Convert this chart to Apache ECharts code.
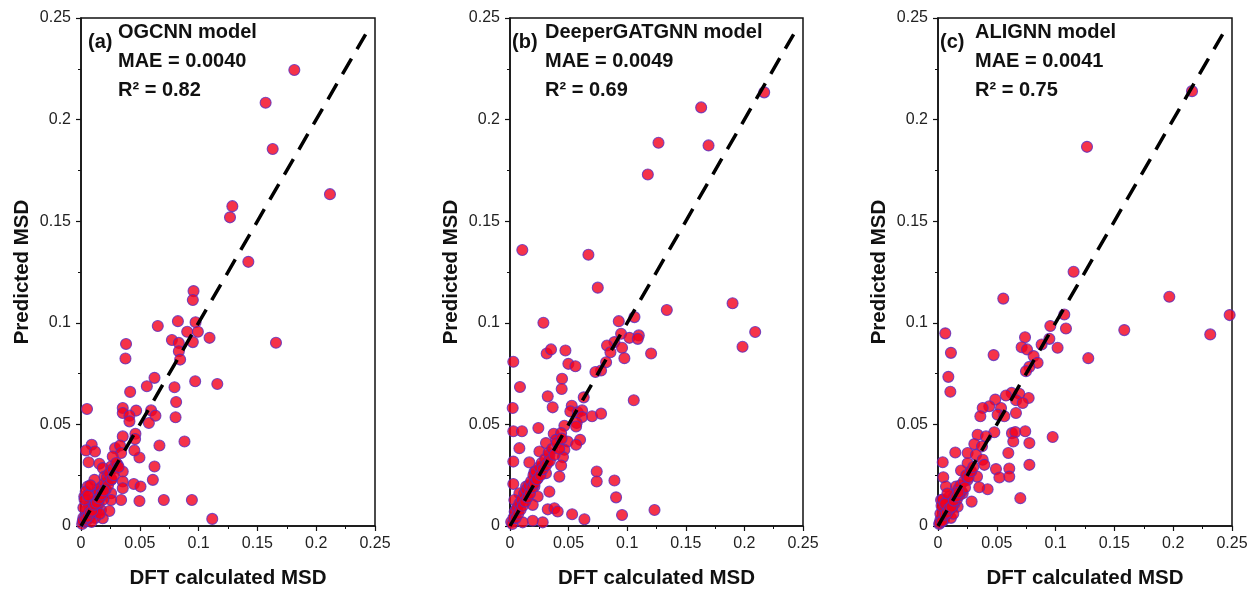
<!DOCTYPE html>
<html>
<head>
<meta charset="utf-8">
<script src="https://cdn.jsdelivr.net/npm/echarts@6/dist/echarts.min.js"></script>
<style>
  html, body { margin: 0; padding: 0; background: #fff; }
  #chart { width: 1252px; height: 590px; }
</style>
</head>
<body>
<div id="chart"></div>
<script>
// [DFT calculated MSD, predicted MSD] pairs
const ogcnnPoints = [
  [0.1814, 0.2244], [0.157, 0.2083], [0.163, 0.1855], [0.2117, 0.1633], [0.1287, 0.1574],
  [0.1267, 0.1519], [0.1423, 0.13], [0.1658, 0.0902],
  [0.0957, 0.1156], [0.0951, 0.1112], [0.0653, 0.0984], [0.0824, 0.1008], [0.0974, 0.1003],
  [0.0903, 0.0956], [0.0994, 0.0956], [0.0773, 0.0915], [0.1093, 0.0926], [0.0832, 0.0901],
  [0.0951, 0.0905], [0.0832, 0.086], [0.0843, 0.0819], [0.0383, 0.0896], [0.0378, 0.0824],
  [0.0625, 0.0729], [0.056, 0.0688], [0.0795, 0.0683], [0.0971, 0.0712], [0.1159, 0.0699],
  [0.0418, 0.066], [0.0809, 0.061], [0.0051, 0.0576], [0.0355, 0.0581], [0.0355, 0.0556],
  [0.0469, 0.0568], [0.0412, 0.0543], [0.0412, 0.0515], [0.0596, 0.0569], [0.0633, 0.0543],
  [0.0577, 0.0507], [0.0804, 0.0535], [0.088, 0.0416], [0.0463, 0.0454], [0.046, 0.0428],
  [0.0355, 0.0441], [0.0667, 0.0396], [0.0091, 0.04], [0.0043, 0.0372], [0.0119, 0.0367],
  [0.0065, 0.0314], [0.029, 0.0383], [0.0332, 0.0396], [0.0341, 0.0359], [0.0497, 0.0337],
  [0.027, 0.0342], [0.0454, 0.0372], [0.0625, 0.0293], [0.0156, 0.0306], [0.0185, 0.0285],
  [0.0256, 0.0293], [0.0312, 0.0301], [0.0355, 0.0268], [0.0611, 0.0227], [0.0449, 0.0207],
  [0.0506, 0.0194], [0.0355, 0.0219], [0.0355, 0.0186], [0.0341, 0.0128], [0.0497, 0.0123],
  [0.0704, 0.0128], [0.0943, 0.0128], [0.1116, 0.0035], [0.0114, 0.0227], [0.0199, 0.0243],
  [0.0256, 0.0227], [0.0057, 0.0194], [0.0142, 0.0178], [0.0256, 0.0161], [0.0028, 0.0145],
  [0.0099, 0.0112], [0.0256, 0.0128], [0.017, 0.0079], [0.0241, 0.0074], [0.0185, 0.0038],
  [0.0085, 0.0063],
  [0.001, 0.001], [0.002, 0.004], [0.003, 0.002], [0.004, 0.005], [0.005, 0.003], [0.005, 0.008],
  [0.006, 0.006], [0.007, 0.004], [0.007, 0.010], [0.008, 0.007], [0.009, 0.009], [0.010, 0.006],
  [0.010, 0.012], [0.011, 0.009], [0.012, 0.011], [0.012, 0.015], [0.013, 0.008], [0.014, 0.013],
  [0.015, 0.011], [0.015, 0.017], [0.016, 0.014], [0.017, 0.019], [0.018, 0.016], [0.019, 0.013],
  [0.020, 0.021], [0.021, 0.018], [0.022, 0.024], [0.023, 0.020], [0.024, 0.026], [0.026, 0.023],
  [0.027, 0.028], [0.028, 0.025], [0.030, 0.031], [0.032, 0.029], [0.002, 0.009], [0.003, 0.013],
  [0.004, 0.017], [0.006, 0.015], [0.008, 0.020], [0.012, 0.004], [0.009, 0.002], [0.016, 0.006],
  [0.0015, 0.0025], [0.0035, 0.0035], [0.0055, 0.0045], [0.0075, 0.0065], [0.0095, 0.0075],
  [0.0115, 0.0105], [0.0135, 0.0115], [0.0155, 0.0135], [0.0175, 0.0155], [0.0195, 0.0175]
];

const deeperPoints = [
  [0.2169, 0.2134], [0.1631, 0.206], [0.1267, 0.1886], [0.1694, 0.1873], [0.1176, 0.173],
  [0.0105, 0.1358], [0.0669, 0.1335], [0.1899, 0.1096], [0.2092, 0.0955], [0.1984, 0.0882],
  [0.0749, 0.1173], [0.1338, 0.1063], [0.0285, 0.1], [0.0928, 0.1008], [0.1062, 0.1028],
  [0.0948, 0.0946], [0.1019, 0.0926], [0.1099, 0.0938], [0.109, 0.0921], [0.0891, 0.0905],
  [0.0828, 0.0888], [0.0857, 0.0855], [0.0956, 0.0877], [0.0976, 0.0826], [0.1204, 0.0849],
  [0.082, 0.0806], [0.0777, 0.0765], [0.0729, 0.0758], [0.0313, 0.0849], [0.035, 0.0869],
  [0.0473, 0.0864], [0.0498, 0.0798], [0.0558, 0.0786], [0.0028, 0.0808], [0.0444, 0.0725],
  [0.0441, 0.0674], [0.0085, 0.0684], [0.0322, 0.0638], [0.0629, 0.0633], [0.1056, 0.0619],
  [0.0023, 0.0581], [0.0364, 0.0584], [0.0527, 0.0592], [0.0515, 0.0564], [0.0578, 0.0559],
  [0.0615, 0.0569], [0.0615, 0.0536], [0.07, 0.054], [0.0777, 0.0553], [0.0569, 0.0507],
  [0.0564, 0.049], [0.0464, 0.0493], [0.0242, 0.0482], [0.0028, 0.0466], [0.0102, 0.0466],
  [0.0373, 0.0454], [0.0436, 0.0457], [0.0393, 0.0424], [0.0492, 0.0416], [0.0598, 0.0424],
  [0.0564, 0.04], [0.0307, 0.0408], [0.008, 0.0383], [0.0251, 0.0367], [0.0464, 0.0375],
  [0.0336, 0.035], [0.0452, 0.0339], [0.0028, 0.0317], [0.0165, 0.0313], [0.0322, 0.0313],
  [0.0436, 0.0298], [0.0265, 0.0285], [0.0208, 0.0265], [0.0307, 0.026], [0.0421, 0.0243],
  [0.0236, 0.0235], [0.074, 0.0268], [0.074, 0.0219], [0.0891, 0.0224], [0.0905, 0.0141],
  [0.0028, 0.0207], [0.0137, 0.0194], [0.0208, 0.0194], [0.0336, 0.0169], [0.008, 0.0161],
  [0.0137, 0.0145], [0.0236, 0.0145], [0.0037, 0.0128], [0.0194, 0.0104], [0.0051, 0.0079],
  [0.0322, 0.0082], [0.0379, 0.0087], [0.0407, 0.0071], [0.053, 0.0058], [0.0635, 0.0033],
  [0.0956, 0.0054], [0.1233, 0.0079], [0.0279, 0.0018], [0.0194, 0.0026], [0.0108, 0.0018],
  [0.001, 0.002], [0.002, 0.001], [0.003, 0.004], [0.004, 0.007], [0.005, 0.004], [0.006, 0.009],
  [0.007, 0.006], [0.008, 0.011], [0.009, 0.008], [0.010, 0.013], [0.011, 0.010], [0.012, 0.016],
  [0.013, 0.012], [0.014, 0.018], [0.015, 0.014], [0.016, 0.020], [0.017, 0.016], [0.018, 0.022],
  [0.019, 0.019], [0.020, 0.025], [0.021, 0.021], [0.022, 0.027], [0.023, 0.023], [0.025, 0.029],
  [0.026, 0.025], [0.027, 0.031], [0.028, 0.028], [0.030, 0.033], [0.031, 0.030], [0.033, 0.036],
  [0.034, 0.032], [0.036, 0.038], [0.038, 0.035], [0.040, 0.041], [0.042, 0.038], [0.044, 0.043]
];

const alignnPoints = [
  [0.216, 0.214], [0.1267, 0.1866], [0.1153, 0.1251], [0.1967, 0.1128], [0.1584, 0.0964],
  [0.2315, 0.0943], [0.248, 0.1038],
  [0.0555, 0.1119], [0.0062, 0.0948], [0.011, 0.0852], [0.0088, 0.0734], [0.0105, 0.0661],
  [0.1074, 0.1041], [0.0955, 0.0984], [0.1088, 0.0972], [0.074, 0.0929], [0.0947, 0.0921],
  [0.0881, 0.0893], [0.0711, 0.088], [0.0757, 0.0869], [0.1017, 0.0877], [0.0473, 0.0841],
  [0.0813, 0.0836], [0.0847, 0.0803], [0.0777, 0.0783], [0.0748, 0.0762], [0.1278, 0.0826],
  [0.0626, 0.0655], [0.0691, 0.0651], [0.0578, 0.0642], [0.0771, 0.063], [0.0664, 0.0619],
  [0.072, 0.0605], [0.0487, 0.0622], [0.0436, 0.0589], [0.038, 0.0581], [0.0536, 0.0581],
  [0.036, 0.054], [0.0507, 0.0548], [0.0564, 0.054], [0.0663, 0.0556], [0.0479, 0.0461],
  [0.0337, 0.0449], [0.0408, 0.0441], [0.0629, 0.0457], [0.0657, 0.0462], [0.0742, 0.0466],
  [0.064, 0.0416], [0.0777, 0.0408], [0.0975, 0.0438], [0.0309, 0.0403], [0.0374, 0.0392],
  [0.0147, 0.0362], [0.0252, 0.0359], [0.0323, 0.035], [0.0598, 0.0359], [0.038, 0.0326],
  [0.004, 0.0314], [0.0252, 0.0309], [0.0777, 0.0301], [0.0394, 0.0301], [0.0196, 0.0273],
  [0.0493, 0.028], [0.0606, 0.0283], [0.0281, 0.0268], [0.0522, 0.0239], [0.0606, 0.0243],
  [0.0332, 0.0243], [0.0045, 0.024], [0.0252, 0.0227], [0.0422, 0.0181], [0.0351, 0.0191],
  [0.0068, 0.0194], [0.0153, 0.0194], [0.07, 0.0137], [0.0286, 0.012], [0.0026, 0.0128],
  [0.0096, 0.0145], [0.021, 0.0161], [0.004, 0.0079], [0.0167, 0.0095],
  [0.001, 0.001], [0.002, 0.003], [0.003, 0.002], [0.004, 0.005], [0.005, 0.003], [0.005, 0.007],
  [0.006, 0.005], [0.007, 0.008], [0.008, 0.006], [0.009, 0.010], [0.010, 0.008], [0.011, 0.012],
  [0.012, 0.009], [0.013, 0.014], [0.014, 0.011], [0.015, 0.016], [0.016, 0.013], [0.017, 0.018],
  [0.018, 0.015], [0.019, 0.020], [0.020, 0.017], [0.022, 0.022], [0.023, 0.019], [0.024, 0.025],
  [0.026, 0.024], [0.028, 0.027], [0.030, 0.029], [0.002, 0.006], [0.003, 0.010], [0.004, 0.013],
  [0.006, 0.011], [0.008, 0.016], [0.011, 0.004], [0.013, 0.006],
  [0.0015, 0.0015], [0.0035, 0.0025], [0.0055, 0.0055], [0.0075, 0.0065], [0.0095, 0.0085],
  [0.0115, 0.0095], [0.0135, 0.0125], [0.0155, 0.0145], [0.0175, 0.0165]
];

const panelTags = ["(a)", "(b)", "(c)"];
const modelNames = ["OGCNN model", "DeeperGATGNN model", "ALIGNN model"];
const maeValues = ["0.0040", "0.0049", "0.0041"];
const r2Values = ["0.82", "0.69", "0.75"];
const parityLine = [[0, 0], [0.242, 0.242]];

const FONT = "'Liberation Sans', Arial, sans-serif";
const grids = [
  { left: 81, top: 18, width: 294, height: 508 },
  { left: 510, top: 18, width: 293, height: 508 },
  { left: 938, top: 18, width: 294, height: 508 }
];
const tagOffsets = [[7, 37], [2, 35], [2, 37]];

function axisBase(i) {
  return {
    gridIndex: i,
    type: "value",
    min: 0,
    max: 0.25,
    interval: 0.05,
    nameLocation: "middle",
    nameTextStyle: { fontFamily: FONT, fontWeight: "bold", fontSize: 20.5, color: "#111" },
    axisLine: { show: true, lineStyle: { color: "#111", width: 1.5 } },
    axisTick: { show: true, inside: false, length: 5, lineStyle: { color: "#111", width: 1.2 } },
    minorTick: { show: true, splitNumber: 2, length: 3, lineStyle: { color: "#111", width: 1 } },
    splitLine: { show: false },
    axisLabel: {
      fontFamily: FONT,
      fontSize: 16,
      color: "#222",
      formatter: (v) => String(+v.toFixed(2))
    }
  };
}

const xAxis = grids.map((g, i) => {
  const a = axisBase(i);
  a.name = "DFT calculated MSD";
  a.nameGap = 42;
  a.axisLabel.margin = 10;
  return a;
});
const yAxis = grids.map((g, i) => {
  const a = axisBase(i);
  a.name = "Predicted MSD";
  a.nameGap = 48;
  a.axisLabel.margin = 10;
  return a;
});

const pointSets = [ogcnnPoints, deeperPoints, alignnPoints];
const series = [];
pointSets.forEach((pts, i) => {
  series.push({
    type: "scatter",
    xAxisIndex: i,
    yAxisIndex: i,
    data: pts,
    symbol: "circle",
    symbolSize: 11,
    clip: true,
    itemStyle: { color: "#f2001c", borderColor: "#5a2cc0", borderWidth: 1.1 },
    z: 2
  });
  series.push({
    type: "line",
    xAxisIndex: i,
    yAxisIndex: i,
    data: parityLine,
    symbol: "none",
    lineStyle: { color: "#000", width: 3.5, type: [18, 11] },
    z: 3
  });
});

const graphic = [];
grids.forEach((g, i) => {
  const textX = g.left + tagOffsets[i][1];
  graphic.push({
    type: "text", left: g.left + tagOffsets[i][0], top: 32,
    style: { text: panelTags[i], font: "bold 20px " + FONT, fill: "#111" }, z: 10
  });
  [modelNames[i], "MAE = " + maeValues[i], "R\u00B2 = " + r2Values[i]].forEach((t, k) => {
    graphic.push({
      type: "text", left: textX, top: 22 + k * 29,
      style: { text: t, font: "bold 20px " + FONT, fill: "#111" }, z: 10
    });
  });
});

const chart = echarts.init(document.getElementById("chart"), null, { renderer: "canvas" });
chart.setOption({
  animation: false,
  backgroundColor: "#fff",
  grid: grids.map((g) => ({
    ...g,
    outerBoundsMode: "none",
    containLabel: false,
    show: true,
    borderColor: "#111",
    borderWidth: 1.5,
    backgroundColor: "transparent"
  })),
  xAxis,
  yAxis,
  series,
  graphic
});
</script>
</body>
</html>
